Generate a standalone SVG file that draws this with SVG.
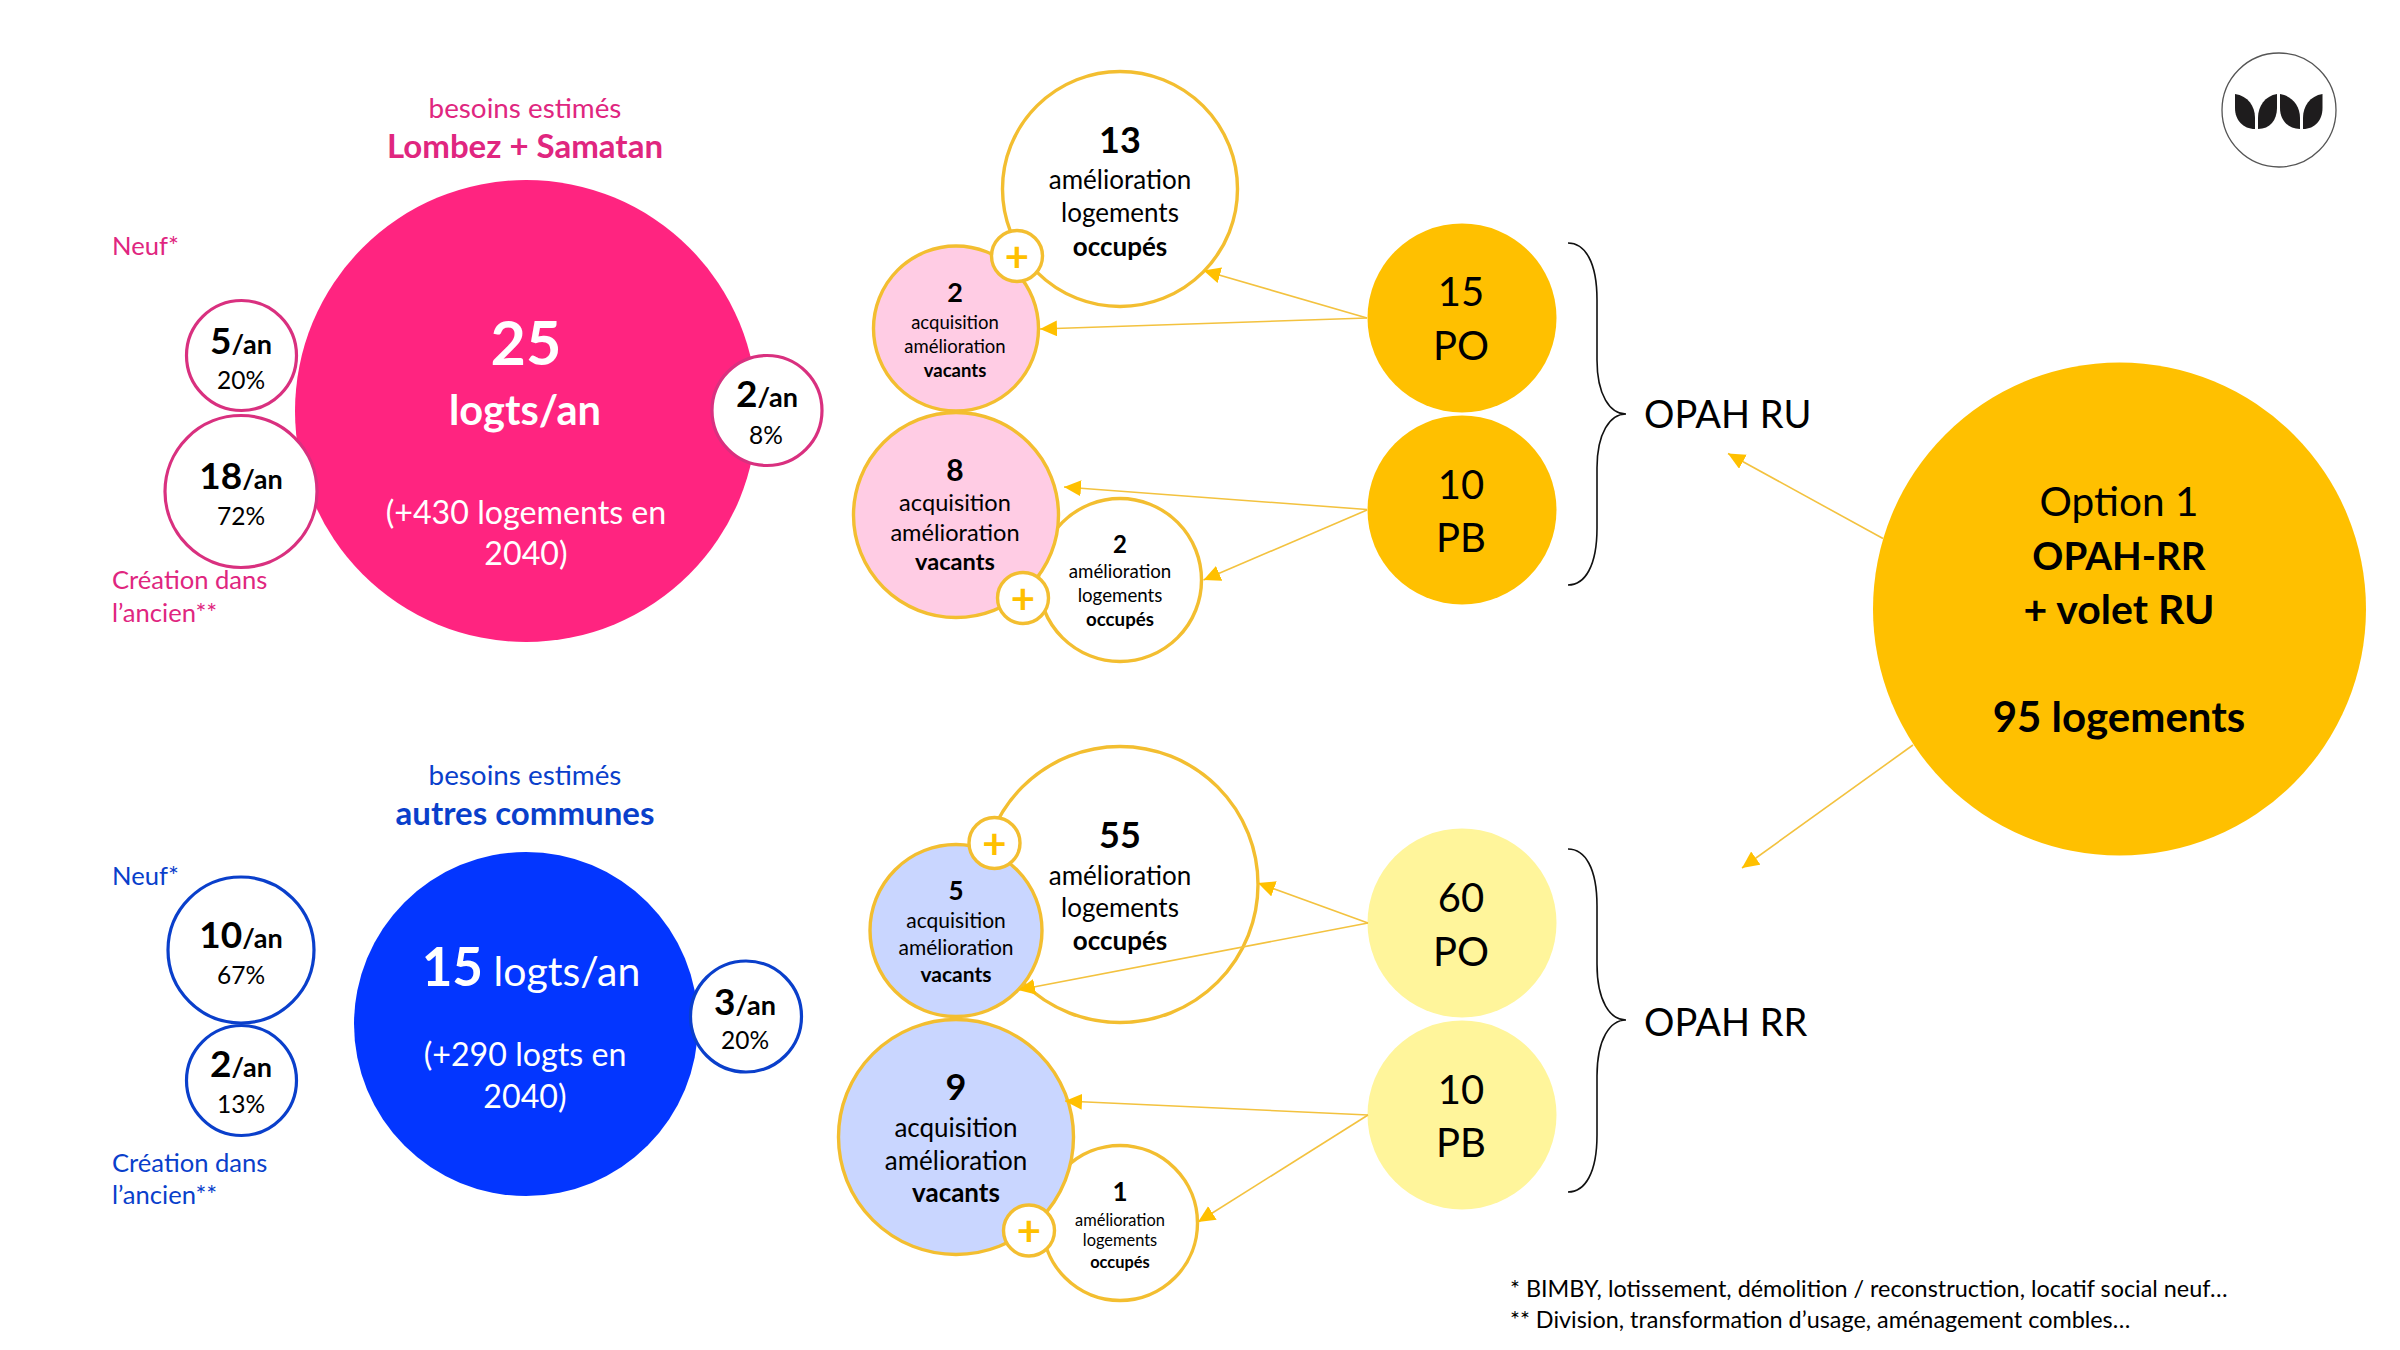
<svg xmlns="http://www.w3.org/2000/svg" width="2400" height="1350" viewBox="0 0 2400 1350">
<style>
text{font-family:"Lato","Noto Sans",sans-serif;text-anchor:middle;fill:#000}
.b{font-weight:700}
.w{fill:#fff}
.p{fill:#E0267F}
.u{fill:#0A3FCB}
.l{text-anchor:start}
.ps{fill:#fff;stroke:#D9307F;stroke-width:3.2}
.us{fill:#fff;stroke:#0A3FCB;stroke-width:3.2}
.gs{fill:#fff;stroke:#F3BE30;stroke-width:3.4}
.lp{fill:#FFCCE4;stroke:#F3BE30;stroke-width:3.4}
.lb{fill:#C9D6FF;stroke:#F3BE30;stroke-width:3.4}
.g{fill:#FFC000}
.y{fill:#FFF59B}
.add{fill:#FFC000;font-weight:700;font-size:42px}
.c{stroke:#F3C23F;stroke-width:1.6;fill:none;marker-end:url(#ah)}
.br{fill:none;stroke:#111;stroke-width:1.6}
.big{font-size:40px}
.op{font-size:38px}
.t27{font-size:27.8px}
.t32{font-size:32.2px}
.h33{font-size:33px;font-weight:700}
.pct{font-size:24.5px}
.lab{font-size:25.6px}
.sm{font-size:26px}
.d{font-size:37px}
.an{font-size:27px}
</style>
<defs>
<marker id="ah" markerUnits="userSpaceOnUse" markerWidth="20" markerHeight="18" refX="17" refY="8" orient="auto"><path d="M0,0L17,8L0,16Z" fill="#FFC000"/></marker>
</defs>

<g id="head-lombez"><text class="p t27" x="525" y="118">besoins estimés</text><text class="p h33" x="525" y="158">Lombez + Samatan</text></g>
<g id="node-25"><circle cx="526" cy="411" r="231" fill="#FF2480"/><text class="w b" font-size="61" x="526" y="365">25</text><text class="w b" font-size="41.6" x="525" y="425">logts/an</text><text class="w t32" x="526" y="524">(+430 logements en</text><text class="w t32" x="526" y="565">2040)</text></g>
<g id="label-neuf-1"><text class="p l lab" x="112" y="255">Neuf*</text></g>
<g id="label-ancien-1"><text class="p l lab" x="112" y="589">Création dans</text><text class="p l lab" x="112" y="622">l’ancien**</text></g>
<g id="node-5an"><circle class="ps" cx="241.5" cy="355.5" r="55"/><text class="b" x="241" y="354"><tspan class="d">5</tspan><tspan class="an">/an</tspan></text><text class="pct" x="241" y="389">20%</text></g>
<g id="node-18an"><circle class="ps" cx="241" cy="491.5" r="76"/><text class="b" x="241" y="489"><tspan class="d">18</tspan><tspan class="an">/an</tspan></text><text class="pct" x="241" y="525">72%</text></g>
<g id="node-2an"><circle class="ps" cx="767" cy="410.5" r="55"/><text class="b" x="767" y="407"><tspan class="d">2</tspan><tspan class="an">/an</tspan></text><text class="pct" x="766" y="444">8%</text></g>

<g id="head-autres"><text class="u t27" x="525" y="785">besoins estimés</text><text class="u h33" x="525" y="825">autres communes</text></g>
<g id="node-15"><circle cx="526" cy="1024" r="172" fill="#0336FF"/><text class="w" x="531" y="986"><tspan class="b" font-size="53">15</tspan><tspan font-size="41"> logts/an</tspan></text><text class="w t32" x="525" y="1066">(+290 logts en</text><text class="w t32" x="525" y="1108">2040)</text></g>
<g id="label-neuf-2"><text class="u l lab" x="112" y="885">Neuf*</text></g>
<g id="label-ancien-2"><text class="u l lab" x="112" y="1172">Création dans</text><text class="u l lab" x="112" y="1204">l’ancien**</text></g>
<g id="node-10an"><circle class="us" cx="241" cy="950" r="73"/><text class="b" x="241" y="948"><tspan class="d">10</tspan><tspan class="an">/an</tspan></text><text class="pct" x="241" y="984">67%</text></g>
<g id="node-2an-b"><circle class="us" cx="241.5" cy="1080.5" r="55"/><text class="b" x="241" y="1077"><tspan class="d">2</tspan><tspan class="an">/an</tspan></text><text class="pct" x="241" y="1113">13%</text></g>
<g id="node-3an"><circle class="us" cx="746" cy="1016.5" r="55.5"/><text class="b" x="745" y="1015"><tspan class="d">3</tspan><tspan class="an">/an</tspan></text><text class="pct" x="745" y="1049">20%</text></g>

<g id="node-13"><circle class="gs" cx="1120" cy="189" r="117.5"/><text class="b" font-size="36" x="1120" y="153">13</text><text class="sm" x="1120" y="189">amélioration</text><text class="sm" x="1120" y="222">logements</text><text class="sm b" x="1120" y="256">occupés</text></g>
<g id="node-2v"><circle class="lp" cx="956" cy="328.5" r="82.5"/><text class="b" font-size="27" x="955" y="302">2</text><text font-size="18.5" x="955" y="329">acquisition</text><text font-size="18.5" x="955" y="353">amélioration</text><text class="b" font-size="18.5" x="955" y="377">vacants</text></g>
<g id="plus-1"><circle class="gs" cx="1017" cy="256" r="25.5"/><text class="add" x="1017" y="272">+</text></g>
<g id="node-2o"><circle class="gs" cx="1120" cy="580" r="81.5"/><text class="b" font-size="24" x="1120" y="553">2</text><text font-size="18.7" x="1120" y="578">amélioration</text><text font-size="18.7" x="1120" y="602">logements</text><text class="b" font-size="18.7" x="1120" y="626">occupés</text></g>
<g id="node-8"><circle class="lp" cx="956" cy="515" r="102.5"/><text class="b" font-size="30" x="955" y="481">8</text><text font-size="23.6" x="955" y="511">acquisition</text><text font-size="23.6" x="955" y="541">amélioration</text><text class="b" font-size="23.6" x="955" y="570">vacants</text></g>
<g id="plus-2"><circle class="gs" cx="1023" cy="598" r="25.5"/><text class="add" x="1023" y="614">+</text></g>
<g id="node-15po"><circle class="g" cx="1462" cy="318" r="94.5"/><text class="big" x="1461" y="305.500">15</text><text class="big" x="1461" y="359.500">PO</text></g>
<g id="node-10pb"><circle class="g" cx="1462" cy="510" r="94.500"/><text class="big" x="1461" y="498.500">10</text><text class="big" x="1461" y="551.500">PB</text></g>
<g id="brace-ru"><path class="br" d="M1568,243C1585,243 1597,262 1597,300L1597,360C1597,395 1610,414 1626,414C1610,414 1597,433 1597,468L1597,528C1597,566 1585,585 1568,585"/></g>
<g id="label-ru"><text class="op l" x="1644" y="428">OPAH RU</text></g>

<g id="node-55"><circle class="gs" cx="1120" cy="884.500" r="138"/><text class="b" font-size="36" x="1120" y="848">55</text><text class="sm" x="1120" y="885">amélioration</text><text class="sm" x="1120" y="917">logements</text><text class="sm b" x="1120" y="950">occupés</text></g>
<g id="node-5"><circle class="lb" cx="956" cy="930.500" r="86"/><text class="b" font-size="26" x="956" y="900">5</text><text font-size="21" x="956" y="928">acquisition</text><text font-size="21" x="956" y="955">amélioration</text><text class="b" font-size="21" x="956" y="982">vacants</text></g>
<g id="plus-3"><circle class="gs" cx="994.500" cy="843" r="25.500"/><text class="add" x="994.500" y="859">+</text></g>
<g id="node-1"><circle class="gs" cx="1120" cy="1223" r="77.500"/><text class="b" font-size="26" x="1120" y="1201">1</text><text font-size="16.400" x="1120" y="1226">amélioration</text><text font-size="16.400" x="1120" y="1246">logements</text><text class="b" font-size="16.400" x="1120" y="1268">occupés</text></g>
<g id="node-9"><circle class="lb" cx="956" cy="1137" r="117.500"/><text class="b" font-size="36" x="956" y="1100">9</text><text font-size="26" x="956" y="1137">acquisition</text><text font-size="26" x="956" y="1170">amélioration</text><text class="b" font-size="26" x="956" y="1202">vacants</text></g>
<g id="plus-4"><circle class="gs" cx="1029" cy="1230.500" r="25.500"/><text class="add" x="1029" y="1246">+</text></g>
<g id="node-60po"><circle class="y" cx="1462" cy="923" r="94.500"/><text class="big" x="1461" y="911.500">60</text><text class="big" x="1461" y="965.500">PO</text></g>
<g id="node-10pb-b"><circle class="y" cx="1462" cy="1115" r="94.500"/><text class="big" x="1461" y="1103.500">10</text><text class="big" x="1461" y="1156.500">PB</text></g>
<g id="brace-rr"><path class="br" d="M1568,849C1585,849 1597,868 1597,906L1597,964C1597,1001 1610,1020 1626,1020C1610,1020 1597,1039 1597,1076L1597,1135C1597,1173 1585,1192 1568,1192"/></g>
<g id="label-rr"><text class="op l" x="1644" y="1036">OPAH RR</text></g>

<g id="node-option"><circle class="g" cx="2119.500" cy="609" r="246.500"/><text font-size="40.500" x="2119" y="516">Option 1</text><text class="b" font-size="38.500" x="2119" y="570">OPAH-RR</text><text class="b" font-size="41" x="2119" y="624">+ volet RU</text><text class="b" font-size="42" x="2119" y="732">95 logements</text></g>

<g id="logo"><circle cx="2279" cy="110" r="57" fill="#fff" stroke="#555" stroke-width="1.3"/><g fill="#1E1C1D"><path d="M2235,94C2248,96 2255,106 2255,118L2255,129C2243,129 2235,120 2235,108Z"/><path d="M2277,94C2265,96 2258,106 2258,118L2258,129C2270,129 2277,120 2277,108Z"/><path d="M2280,94C2292,96 2300,106 2300,118L2300,129C2288,129 2280,120 2280,108Z"/><path d="M2322.500,94C2310,96 2303,106 2303,118L2303,129C2315,129 2322.500,120 2322.500,108Z"/></g></g>

<g id="footnotes"><text class="l" font-size="23.400" x="1510" y="1297">* BIMBY, lotissement, démolition / reconstruction, locatif social neuf…</text><text class="l" font-size="23.400" x="1510" y="1328">** Division, transformation d’usage, aménagement combles…</text></g>

<g id="connectors">
<line class="c" x1="1367" y1="318" x2="1203.500" y2="270.500"/>
<line class="c" x1="1367" y1="318" x2="1040" y2="329"/>
<line class="c" x1="1367" y1="509.500" x2="1064" y2="487"/>
<line class="c" x1="1367" y1="510" x2="1203.500" y2="580"/>
<line class="c" x1="1368" y1="923" x2="1258" y2="883"/>
<line class="c" x1="1368" y1="923" x2="1018" y2="990"/>
<line class="c" x1="1368" y1="1115" x2="1065" y2="1101"/>
<line class="c" x1="1368" y1="1115" x2="1198" y2="1222"/>
<line class="c" x1="1883" y1="538.500" x2="1728" y2="453.500"/>
<line class="c" x1="1913" y1="745" x2="1742" y2="868"/>
</g>
</svg>
